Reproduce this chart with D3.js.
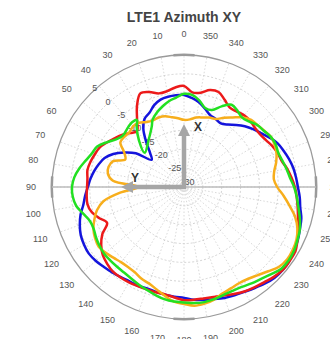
<!DOCTYPE html>
<html><head><meta charset="utf-8">
<script src="https://cdn.jsdelivr.net/npm/d3@7/dist/d3.min.js"></script>
<style>body{margin:0;background:#fff}</style>
</head><body><svg id="c" width="330" height="339"></svg>
<script>
const title = "LTE1 Azimuth XY";
const angleTicks = [0,10,20,30,40,50,60,70,80,90,100,110,120,130,140,150,160,170,180,190,200,210,220,230,240,250,260,270,280,290,300,310,320,330,340,350];
const radialTicks = [5,0,-5,-10,-15,-20,-25,-30];
const angles = [0,5,10,15,20,25,30,35,40,45,50,55,60,65,70,75,80,85,90,95,100,105,110,115,120,125,130,135,140,145,150,155,160,165,170,175,180,185,190,195,200,205,210,215,220,225,230,235,240,245,250,255,260,265,270,275,280,285,290,295,300,305,310,315,320,325,330,335,340,345,350,355];
const red = [-3.2,-3.5,-4.2,-4.3,-3.2,-2.6,-5.1,-8.3,-10.6,-9.8,-8.5,-7.5,-6.4,-5.3,-4.8,-4.3,-4.0,-4.3,-4.3,-4.1,-4.0,-4.6,-6.0,-7.5,-5.0,-3.2,-1.9,-1.2,-0.7,-0.7,-0.8,-1.0,-1.1,-1.1,-1.1,-0.6,0.0,0.0,0.0,0.2,0.6,1.3,2.0,2.5,3.0,3.7,4.2,4.2,4.1,3.2,2.2,1.3,0.6,0.0,-0.6,-1.4,-2.2,-3.2,-3.6,-4.2,-5.0,-5.5,-5.5,-5.2,-5.2,-5.6,-5.7,-4.5,-3.2,-3.4,-4.6,-4.8];
const blue = [-5.6,-5.6,-5.7,-6.0,-6.9,-8.3,-9.1,-11.2,-14.4,-17.3,-18.8,-14.4,-11.7,-9.3,-7.6,-6.6,-5.8,-5.1,-4.5,-3.7,-2.9,-1.6,-0.6,0.2,0.6,0.8,0.5,0.0,-0.4,-0.8,-1.1,-1.1,-1.4,-1.2,-1.0,-0.8,-0.6,0.0,0.4,0.8,1.3,1.7,2.1,2.7,3.4,4.0,4.2,4.1,3.7,3.3,2.7,2.2,1.3,0.8,0.2,-0.2,-0.6,-1.2,-1.9,-2.6,-3.8,-5.1,-6.1,-7.2,-8.5,-9.8,-10.5,-10.1,-9.7,-8.5,-7.2,-6.3];
const orange = [-12.2,-11.7,-11.2,-10.6,-10.4,-10.5,-10.1,-9.2,-9.0,-9.5,-9.3,-9.4,-11.7,-12.8,-10.0,-9.3,-9.5,-11.1,-18.0,-13.0,-8.3,-6.1,-4.7,-3.5,-2.8,-2.4,-2.9,-3.5,-4.0,-4.1,-3.9,-3.2,-2.8,-1.9,-0.7,0.5,1.0,1.6,1.4,0.9,0.0,-0.4,-0.6,-0.3,0.5,1.6,2.9,3.4,3.3,2.9,2.0,0.5,-1.6,-3.5,-5.3,-6.1,-5.7,-4.7,-3.9,-3.5,-3.4,-4.0,-4.5,-4.8,-5.9,-7.5,-8.8,-10.1,-10.4,-10.9,-11.3,-12.0];
const greenAngles = [0,5,10,15,20,25,28,37,49,44,38,35,39,43,50,55,60,65,70,75,80,85,90,95,100,105,110,115,120,125,130,135,140,145,150,155,160,165,170,175,180,185,190,195,200,205,210,215,220,225,230,235,240,245,250,255,260,265,270,275,280,285,290,295,300,305,310,315,320,325,330,335,340,345,350,355];
const green = [-5.3,-6.2,-6.9,-7.9,-9.0,-10.3,-11.8,-14.4,-16.2,-12.8,-9.6,-8.3,-8.0,-8.3,-8.8,-8.0,-6.3,-4.6,-4.0,-3.0,-1.8,-0.8,-0.3,-0.4,-1.0,-2.4,-3.5,-3.6,-3.1,-2.7,-2.4,-2.4,-2.4,-2.3,-2.0,-1.5,-1.0,-0.4,0.2,0.5,0.6,0.9,1.0,0.8,0.5,0.4,0.6,1.2,1.8,2.7,3.7,3.9,3.7,3.2,2.7,1.8,0.8,0.0,-0.8,-1.8,-2.4,-3.0,-3.4,-3.2,-3.4,-4.1,-4.5,-5.5,-6.0,-5.3,-4.8,-6.4,-8.3,-8.3,-6.7,-5.5];

const seriesColors = {red:"#ec1a1a", blue:"#1414dc", green:"#22e022", orange:"#f7ae1c"};
const font = "'Liberation Sans', Arial, sans-serif";

const svg = d3.select("#c");
const cx = 184, cy = 187, R = 132;
const rScale = d3.scaleLinear().domain([-30, 5]).range([0, R]);
const aScale = d3.scaleLinear().domain([0, 360]).range([0, -2 * Math.PI]); // counter-clockwise, 0 at top

const g = svg.append("g").attr("transform", `translate(${cx},${cy})`);

// title
svg.append("text").attr("x", cx).attr("y", 22).attr("text-anchor", "middle")
  .attr("font-family", font).attr("font-weight", "bold").attr("font-size", 14).attr("fill", "#444").text(title);

// radial grid lines
g.selectAll("line.spoke").data(angleTicks).join("line").attr("class", "spoke")
  .attr("x1", 0).attr("y1", 0)
  .attr("x2", d => R * Math.sin(aScale(d))).attr("y2", d => -R * Math.cos(aScale(d)))
  .attr("stroke", "#cfcfcf").attr("stroke-width", 0.8).attr("stroke-dasharray", "1.5,2");

// rings
g.selectAll("circle.ring").data(radialTicks.filter(v => v > -30 && v < 5)).join("circle").attr("class", "ring")
  .attr("r", d => rScale(d)).attr("fill", "none")
  .attr("stroke", "#c8c8c8").attr("stroke-width", 0.8).attr("stroke-dasharray", "2,2");

// outer circle
g.append("circle").attr("r", rScale(5)).attr("fill", "none").attr("stroke", "#9a9a9a").attr("stroke-width", 1.3);

// cardinal marks
const arc = d3.arc().innerRadius(R - 1).outerRadius(R + 1.5);
[0, 90, 180, 270].forEach(t => {
  g.append("path").attr("d", arc({startAngle: -aScale(t) * -1 - 0.08, endAngle: -aScale(t) * -1 + 0.08})).attr("fill", "#9a9a9a");
});

// horizontal axis line (90 - 270)
g.append("line").attr("x1", -R).attr("x2", R).attr("y1", 0).attr("y2", 0)
  .attr("stroke", "#bdbdbd").attr("stroke-width", 1.5);

// angle labels
g.selectAll("text.ang").data(angleTicks).join("text").attr("class", "ang")
  .attr("x", d => (R + 21) * Math.sin(aScale(d))).attr("y", d => -(R + 21) * Math.cos(aScale(d)))
  .attr("text-anchor", "middle").attr("dominant-baseline", "central")
  .attr("font-family", font).attr("font-size", 9).attr("fill", "#555").text(d => d);

// radial labels
const la = aScale(45);
g.selectAll("text.rad").data(radialTicks).join("text").attr("class", "rad")
  .attr("x", d => rScale(d) * Math.sin(la) + 4).attr("y", d => -rScale(d) * Math.cos(la) - 5.5)
  .attr("text-anchor", "middle").attr("dominant-baseline", "central")
  .attr("font-family", font).attr("font-size", 9).attr("fill", "#555").text(d => d);

// curves
const line = d3.lineRadial().angle(d => aScale(d[0])).radius(d => rScale(d[1])).curve(d3.curveCatmullRomClosed.alpha(0.5));
const series = [
  {name: "blue", a: angles, v: blue},
  {name: "red", a: angles, v: red},
  {name: "orange", a: angles, v: orange},
  {name: "green", a: greenAngles, v: green}
];
series.forEach(s => {
  g.append("path").attr("d", line(s.a.map((t, i) => [t, s.v[i]])))
    .attr("fill", "none").attr("stroke", seriesColors[s.name]).attr("stroke-width", 2.5).attr("stroke-linejoin", "round");
});

// X / Y arrows
const ac = "#a6a6a6";
g.append("line").attr("x1", 0).attr("y1", 2).attr("x2", 0).attr("y2", -52).attr("stroke", ac).attr("stroke-width", 4.5);
g.append("path").attr("d", "M-6,-51L6,-51L0,-63Z").attr("fill", ac);
g.append("line").attr("x1", 2).attr("y1", 0).attr("x2", -52).attr("y2", 0).attr("stroke", ac).attr("stroke-width", 4.5);
g.append("path").attr("d", "M-51,-6L-51,6L-63,0Z").attr("fill", ac);
g.append("text").attr("x", 14).attr("y", -60).attr("text-anchor", "middle").attr("dominant-baseline", "central")
  .attr("font-family", font).attr("font-weight", "bold").attr("font-size", 12).attr("fill", "#333").text("X");
g.append("text").attr("x", -49).attr("y", -9).attr("text-anchor", "middle").attr("dominant-baseline", "central")
  .attr("font-family", font).attr("font-weight", "bold").attr("font-size", 12).attr("fill", "#333").text("Y");
</script></body></html>
